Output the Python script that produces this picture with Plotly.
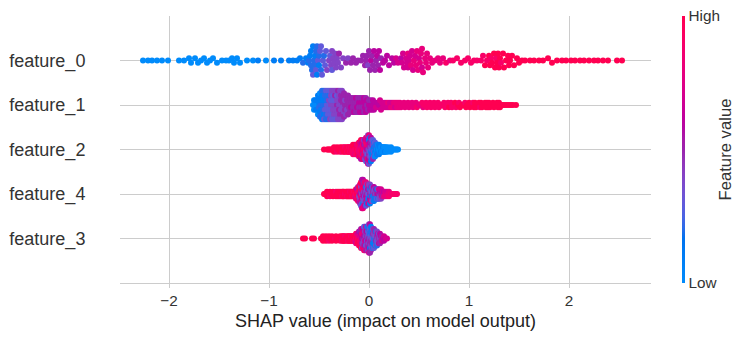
import numpy as np
import plotly.graph_objects as go

# Row labels, top to bottom (ordered by mean |SHAP|)
feature_names = ["feature_0", "feature_1", "feature_2", "feature_4", "feature_3"]
x_ticks = [-2, -1, 0, 1, 2]

# Each SHAP value is paired with the feature values (0 = low, 10 = high)
# of every sample that received that SHAP value.
f0_shap = [
    -2.26, -2.21, -2.17, -2.12, -2.07, -2.01, -1.90, -1.85, -1.80, -1.78,
    -1.74, -1.71, -1.68, -1.65, -1.62, -1.59, -1.56, -1.52, -1.47, -1.43,
    -1.40, -1.37, -1.35, -1.32, -1.29, -1.22, -1.16, -1.11, -1.03, -0.95,
    -0.88, -0.80, -0.76,
    -0.72, -0.69, -0.66, -0.63,
    -0.61, -0.60, -0.59, -0.58, -0.57, -0.56, -0.55, -0.54, -0.53, -0.52,
    -0.51, -0.50, -0.49, -0.48, -0.47, -0.46, -0.45,
    -0.44, -0.43, -0.42,
    -0.40, -0.39, -0.38, -0.37, -0.36, -0.35, -0.34, -0.33, -0.32, -0.31, -0.30,
    -0.28, -0.26, -0.23, -0.21, -0.18, -0.16, -0.13, -0.11, -0.08, -0.06,
    -0.04, -0.03, -0.02, -0.01, 0.00, 0.01, 0.02, 0.03, 0.04, 0.05,
    0.06, 0.07, 0.08, 0.09, 0.10, 0.11, 0.12, 0.14, 0.16, 0.18, 0.20,
    0.23, 0.25, 0.27, 0.29,
    0.32, 0.33, 0.34, 0.35, 0.37, 0.38, 0.39, 0.40, 0.41, 0.42,
    0.43, 0.44, 0.45, 0.46, 0.47, 0.48, 0.49, 0.50, 0.51, 0.52,
    0.53, 0.54, 0.56, 0.57, 0.58, 0.59, 0.61, 0.63,
    0.66, 0.69, 0.71,
    0.74, 0.77, 0.81, 0.84, 0.88, 0.92, 0.96,
    0.99, 1.02, 1.05, 1.08,
    1.12, 1.14, 1.16, 1.18, 1.20, 1.21, 1.22, 1.23, 1.25, 1.26,
    1.27, 1.28, 1.29, 1.30, 1.31, 1.32, 1.34, 1.35, 1.37, 1.39,
    1.40, 1.41, 1.43, 1.45, 1.48, 1.50, 1.53, 1.56,
    1.61, 1.65, 1.70, 1.74, 1.79, 1.83, 1.88, 1.93, 1.97, 2.02,
    2.06, 2.11, 2.15, 2.20, 2.25, 2.29, 2.34, 2.39, 2.48, 2.53,
]
f0_vals = [
    [0], [0], [0], [0], [0], [0], [0], [0], [0], [0],
    [0], [0], [0], [0], [0], [0], [0], [0], [0], [0],
    [0], [0], [0], [0], [0], [0], [0], [1], [0], [1],
    [1], [1], [1],
    [1], [1], [2], [1],
    [1], [2], [1], [2, 1], [2], [1, 3], [2], [1, 2], [2, 3], [2, 1],
    [3], [2, 1], [3], [2, 3], [3], [3], [2],
    [3], [3], [4],
    [4], [3], [4], [4, 3], [4], [4], [4], [4], [4], [4], [5],
    [4], [4], [5], [4], [5], [5], [5], [5], [5], [5],
    [5], [5], [5], [4], [5], [5], [6], [5], [5], [6],
    [5], [5], [6], [5], [6], [6], [5], [6], [6], [6], [6],
    [6], [6], [7], [7],
    [6], [7], [7], [7], [7], [7], [8, 7], [7], [7], [8],
    [7], [7], [8], [7], [8], [8], [8], [7], [8], [8],
    [7, 8], [8], [8], [8], [8], [8], [8], [8],
    [8], [8], [8],
    [8], [9], [8], [9], [9], [9], [9],
    [9], [9], [9], [9],
    [9], [9], [10], [9], [10], [10], [9], [10], [10], [10],
    [9], [10], [10], [10], [10], [9], [10], [10], [10], [10],
    [10], [10], [10], [10], [10], [10], [10], [10],
    [10], [10], [10], [10], [10], [10], [10], [10], [10], [10],
    [10], [10], [10], [10], [10], [10], [10], [10], [10], [10],
]

f1_shap = [
    -0.56, -0.55, -0.54, -0.53, -0.52, -0.51, -0.50, -0.49, -0.48, -0.47,
    -0.46, -0.45, -0.44, -0.43, -0.42, -0.41, -0.40, -0.39, -0.38, -0.37,
    -0.36, -0.35, -0.34, -0.33, -0.32, -0.31, -0.30, -0.29, -0.28, -0.27,
    -0.26, -0.25, -0.24, -0.23, -0.22, -0.21, -0.20, -0.19, -0.18, -0.17,
    -0.16, -0.15, -0.14, -0.13, -0.12, -0.11, -0.10, -0.09, -0.08, -0.07,
    -0.06, -0.05, -0.04, -0.03,
    -0.02, -0.01, 0.00, 0.01, 0.02, 0.03, 0.04, 0.05, 0.06, 0.07, 0.08, 0.09, 0.10, 0.11,
    0.12, 0.13, 0.14, 0.15, 0.16, 0.17, 0.18, 0.19, 0.20, 0.21,
    0.22, 0.23, 0.24, 0.25, 0.26, 0.27, 0.28, 0.29,
    0.30, 0.31, 0.32, 0.34, 0.35, 0.36, 0.38, 0.39, 0.40, 0.42,
    0.43, 0.44, 0.46, 0.47, 0.48, 0.50, 0.51, 0.53, 0.54, 0.55,
    0.57, 0.58, 0.59, 0.61, 0.62, 0.64, 0.65, 0.66, 0.68, 0.69,
    0.70, 0.72, 0.73, 0.75, 0.76, 0.77, 0.79, 0.80, 0.82, 0.83,
    0.84, 0.86, 0.87, 0.89, 0.90, 0.91, 0.93, 0.94, 0.96, 0.97,
    0.98, 1.00,
    1.01, 1.02, 1.04, 1.05, 1.06, 1.07, 1.09, 1.10, 1.11, 1.12,
    1.13, 1.15, 1.16, 1.17, 1.18, 1.19, 1.20, 1.21, 1.23, 1.24,
    1.25, 1.26, 1.28, 1.29, 1.30, 1.31, 1.33, 1.34,
    1.36, 1.38, 1.40, 1.42, 1.44, 1.47,
]
f1_vals = [
    [0], [0, 0], [0, 1], [1], [0, 1, 1], [1, 0], [1, 2, 1], [1, 0, 2], [2, 1, 1], [1, 2, 2, 1],
    [2, 1, 2, 1], [1, 2, 3], [2, 1, 3, 2], [2, 3, 2], [3, 2, 3, 2], [3, 3, 2], [3, 4, 3, 2], [3, 3, 4], [4, 3, 3, 4], [3, 4, 3],
    [4, 3, 4, 3], [4, 4, 3], [4, 3, 4, 5], [4, 4, 3], [5, 4, 4, 3], [4, 5, 4], [4, 4, 5, 4], [5, 4, 4], [4, 5, 4, 5], [5, 4, 4],
    [5, 4, 5], [4, 5, 5], [5, 4, 5], [5, 4], [5, 5, 4], [5, 5], [5, 5], [5, 5], [5, 6], [5, 5],
    [5, 5], [5, 6], [5, 5], [6, 5], [5, 6], [5, 5], [6, 5], [5, 6], [6, 5], [5, 6],
    [6, 5], [6, 5], [6, 6], [5, 6],
    [5, 6], [5], [6, 5], [6], [6, 5], [6], [6, 6], [6], [6], [7], [6], [7], [6], [7],
    [7], [7], [7], [7], [7], [7], [7], [8], [7], [7],
    [8], [7], [8], [8], [7], [8], [8], [8],
    [8], [8], [8], [8], [8], [8], [8], [8], [8], [8],
    [8], [8], [8], [8], [9], [8], [8], [9], [8], [9],
    [9], [9], [9], [9], [9], [9], [9], [9], [9], [9],
    [9], [9], [9], [9], [9], [9], [9], [10], [9], [9],
    [9], [10], [9], [10], [9], [10], [10], [10], [9], [10],
    [10], [10],
    [10], [10], [9], [10], [10], [10], [10], [10], [9], [10],
    [10], [10], [10], [10], [10], [10], [10], [10], [10], [10],
    [10], [10], [10], [10], [10], [10], [10], [10],
    [10], [10], [10], [10], [10], [10],
]

f2_shap = [
    -0.45,
    -0.42, -0.41, -0.40, -0.39, -0.38, -0.37, -0.36, -0.35, -0.34, -0.33, -0.32, -0.31, -0.30,
    -0.29, -0.28, -0.27, -0.26, -0.25, -0.24, -0.23, -0.22, -0.21, -0.20,
    -0.19, -0.18, -0.17, -0.16, -0.15, -0.14, -0.13, -0.12, -0.11,
    -0.10, -0.09, -0.08, -0.07, -0.06, -0.05,
    -0.04, -0.03, -0.02, -0.01, 0.00, 0.01, 0.02, 0.03, 0.04,
    0.05, 0.06, 0.07, 0.08, 0.09, 0.10,
    0.11, 0.12, 0.13, 0.14, 0.15, 0.16, 0.17, 0.18, 0.19, 0.20,
    0.21, 0.22, 0.23, 0.24, 0.25, 0.26, 0.27, 0.28, 0.29,
]
f2_vals = [
    [10],
    [10], [10], [10], [10], [10], [10], [10], [10, 10], [10], [10], [10, 9], [10], [10],
    [10, 10], [10], [10, 9], [10], [10, 10], [9, 10], [10], [10, 9], [10, 10], [9, 10],
    [10, 9], [9, 10], [10, 9], [9, 10, 9], [10, 9], [9, 10, 8], [9, 10, 9], [10, 8, 9], [9, 9, 10],
    [9, 8, 10, 7], [8, 9, 7, 10], [9, 7, 8, 10, 6], [8, 10, 6, 9], [7, 9, 5, 8, 10], [9, 6, 8, 4, 7],
    [8, 5, 9, 6, 4], [7, 4, 9, 5, 8, 3], [6, 9, 4, 7, 5], [5, 8, 3, 6, 9, 4, 7], [4, 7, 5, 2, 6, 8, 3],
    [5, 3, 6, 4, 1, 7], [4, 2, 5, 3, 6, 1], [3, 5, 1, 4, 2], [2, 4, 1, 3, 5],
    [1, 3, 2, 4], [2, 1, 3, 0], [1, 2, 0], [0, 2, 1], [1, 0, 2], [0, 1, 1],
    [1, 0], [0, 1], [0, 0], [1, 0], [0, 0], [0, 1], [0, 0], [0], [0, 0], [0],
    [0], [0, 0], [0], [0], [0], [0], [0], [0], [0],
]

f4_shap = [
    -0.45, -0.44, -0.43, -0.42, -0.41, -0.40, -0.39, -0.38, -0.37, -0.36, -0.35, -0.34,
    -0.33, -0.32, -0.31, -0.30,
    -0.29, -0.28, -0.27, -0.26, -0.25, -0.24, -0.23, -0.22, -0.21, -0.20, -0.19, -0.18,
    -0.17, -0.16, -0.15,
    -0.14, -0.13, -0.12, -0.11, -0.10,
    -0.09, -0.08, -0.07, -0.06, -0.05, -0.04, -0.03,
    -0.02, -0.01, 0.00, 0.01, 0.02, 0.03, 0.04,
    0.05, 0.06, 0.07, 0.08, 0.09, 0.10, 0.11, 0.12,
    0.13, 0.14, 0.15, 0.16, 0.17, 0.18, 0.19, 0.20,
    0.21, 0.22, 0.23, 0.24, 0.25, 0.26, 0.27, 0.28,
]
f4_vals = [
    [10], [10], [10], [10, 10], [10], [10], [10, 9], [10], [10], [10, 10], [10], [10],
    [9, 10], [10], [10, 10], [10],
    [10, 10], [10], [10, 9], [10, 10], [10, 10], [9], [10, 10], [10, 9], [10, 10], [10, 10], [9, 10], [10, 10],
    [10, 9], [10, 10], [9, 10],
    [10, 8], [9, 10, 7], [10, 6, 9], [8, 10, 5, 9], [9, 4, 10, 7],
    [6, 10, 4, 8, 5], [5, 9, 4, 7, 10, 3], [4, 8, 6, 10, 3, 5, 7], [5, 9, 4, 7, 2, 6, 8],
    [4, 6, 10, 3, 5, 8], [5, 3, 7, 4, 9, 6], [4, 6, 2, 5, 8, 3],
    [5, 3, 7, 4, 1], [4, 6, 2, 9, 5], [3, 5, 1, 4, 7], [5, 2, 6, 4, 1], [4, 1, 5, 8], [3, 5, 2, 4], [5, 1, 4, 3],
    [4, 2, 6, 1], [5, 3, 1], [4, 6, 2], [5, 1, 3], [6, 4, 2], [5, 7, 3], [6, 4], [5, 7, 4],
    [6, 7], [7, 5], [6, 8], [7, 8], [8], [7, 8], [8], [8, 9],
    [8], [9], [8], [9], [9], [9], [9], [9],
]

f3_shap = [
    -0.66, -0.64, -0.57, -0.55,
    -0.48, -0.47, -0.46, -0.45, -0.44, -0.43, -0.42, -0.41, -0.40, -0.39,
    -0.38, -0.37, -0.36, -0.35, -0.34, -0.33, -0.32, -0.31, -0.30,
    -0.29, -0.28, -0.27, -0.26, -0.25, -0.24, -0.23, -0.22, -0.21, -0.20,
    -0.19, -0.18, -0.17, -0.16, -0.15,
    -0.14, -0.13, -0.12, -0.11, -0.10, -0.09, -0.08,
    -0.07, -0.06, -0.05, -0.04, -0.03, -0.02, -0.01, 0.00,
    0.01, 0.02, 0.03, 0.04, 0.05, 0.06, 0.07,
    0.08, 0.09, 0.10, 0.11, 0.12, 0.13,
    0.14, 0.15, 0.16, 0.17, 0.18,
]
f3_vals = [
    [10], [10], [10], [10],
    [10], [10], [10, 10], [10], [10], [10, 10], [10], [10], [10, 9], [10],
    [10], [10, 10], [10], [10], [9], [10, 10], [10], [10], [10],
    [10, 10], [10], [10, 9], [10, 10], [10, 10], [9, 10], [10], [10, 10], [10, 9], [10, 10],
    [10, 10], [9, 10], [10, 10], [10, 9], [10, 10],
    [10, 8], [9, 10, 7], [10, 8, 9], [9, 7, 10], [8, 10, 6, 9], [7, 9, 5, 10], [8, 6, 9, 5, 10],
    [6, 9, 5, 7, 4], [5, 8, 4, 6, 9], [6, 4, 7, 5, 3, 8], [5, 7, 4, 6, 3, 9],
    [4, 6, 5, 3, 7, 5], [5, 3, 6, 4, 2, 7], [4, 6, 3, 5, 2, 4], [5, 3, 4, 2, 6, 4, 7],
    [4, 2, 5, 3, 1, 6, 5], [3, 5, 2, 4, 1, 5], [4, 2, 5, 1, 3], [3, 5, 1, 4, 2],
    [2, 4, 1, 5, 3], [4, 2, 5, 1], [3, 5, 2, 4],
    [5, 3, 4, 2], [4, 6, 3], [5, 3, 6], [4, 6, 5], [6, 5], [5, 7],
    [6], [7, 6], [6], [7], [7],
]

rows = [
    (f0_shap, f0_vals),
    (f1_shap, f1_vals),
    (f2_shap, f2_vals),
    (f4_shap, f4_vals),
    (f3_shap, f3_vals),
]


def red_blue_scale(n=25):
    """Blue-to-red scale interpolated in LCh space (low -> high feature value)."""
    rgb_from_xyz = np.linalg.inv(np.array([
        [0.412453, 0.357580, 0.180423],
        [0.212671, 0.715160, 0.072169],
        [0.019334, 0.119193, 0.950227],
    ]))
    scale = []
    for t in np.linspace(0, 1, n):
        L = 54 + (40 - 54) * t / 0.5 if t <= 0.5 else 40 + (54 - 40) * (t - 0.5) / 0.5
        C = 70 + (90 - 70) * t
        h = 4.6588 + t * (0.35470565 + 2 * np.pi - 4.6588)
        a, b = C * np.cos(h), C * np.sin(h)
        fy = (L + 16) / 116
        f = np.array([fy + a / 500, fy, fy - b / 200])
        xyz = np.where(f > 6 / 29, f ** 3, 3 * (6 / 29) ** 2 * (f - 4 / 29))
        xyz *= np.array([0.95047, 1.0, 1.08883])
        lin = rgb_from_xyz @ xyz
        srgb = np.where(lin > 0.0031308, 1.055 * np.abs(lin) ** (1 / 2.4) - 0.055, 12.92 * lin)
        r, g, bl = (np.clip(srgb, 0, 1) * 255).round().astype(int)
        scale.append([float(t), f"rgb({r},{g},{bl})"])
    return scale


def swarm_offsets(values, nbins=100, half_height=0.32):
    """Vertical jitter: points sharing a SHAP bin are spread symmetrically,
    centre-out, with the spread proportional to the bin count."""
    values = np.asarray(values, dtype=float)
    lo, hi = values.min(), values.max()
    quant = np.round(nbins * (values - lo) / (hi - lo + 1e-8))
    ys = np.zeros(len(values))
    for q in np.unique(quant):
        idx = np.flatnonzero(quant == q)
        slots = np.arange(len(idx)) - (len(idx) - 1) / 2
        slots = sorted(slots, key=lambda s: (abs(s), -s))
        ys[idx] = slots
    peak = np.max(np.abs(ys))
    if peak > 0:
        ys *= half_height / peak
    return ys


colorscale = red_blue_scale()
font_family = "Liberation Sans, Arial, Helvetica, sans-serif"

fig = go.Figure()
n_rows = len(rows)
for i, (shap_vals, feat_vals) in enumerate(rows):
    pos = n_rows - 1 - i
    xs = np.repeat(np.array(shap_vals, dtype=float), [len(v) for v in feat_vals])
    cs = np.concatenate([np.array(v, dtype=float) for v in feat_vals])
    ys = pos + swarm_offsets(xs)
    marker = dict(size=6, color=cs, colorscale=colorscale, cmin=0, cmax=10,
                  line=dict(width=0), opacity=1)
    if i == 0:
        marker.update(showscale=True, colorbar=dict(
            thickness=3, len=1, lenmode="fraction", y=0.5, yanchor="middle", ypad=0,
            x=1.058, xanchor="left", xpad=0, outlinewidth=0,
            tickvals=[0, 10], ticktext=["Low", "High"], ticks="",
            tickfont=dict(size=15.3, color="#333333", family=font_family),
        ))
    else:
        marker.update(showscale=False)
    fig.add_trace(go.Scatter(x=xs, y=ys, mode="markers", marker=marker,
                             hoverinfo="skip", showlegend=False))

fig.update_layout(
    width=745, height=340,
    margin=dict(l=120, r=94, t=16, b=57, autoexpand=False),
    paper_bgcolor="white", plot_bgcolor="white",
    font=dict(family=font_family, color="#333333"),
    showlegend=False,
    annotations=[dict(
        text="Feature value", textangle=-90, showarrow=False,
        xref="paper", yref="paper", x=1.1394, y=0.5,
        xanchor="center", yanchor="middle",
        font=dict(size=16.7, color="#333333", family=font_family),
    )],
)
fig.update_xaxes(
    range=[-2.49, 2.82], tickvals=x_ticks,
    showgrid=True, gridcolor="#cccccc", gridwidth=1,
    zeroline=True, zerolinecolor="#999999", zerolinewidth=1,
    showline=True, linecolor="#cccccc", linewidth=1,
    ticks="outside", ticklen=4, tickcolor="#cccccc",
    tickfont=dict(size=15.3, color="#333333"),
    title=dict(text="SHAP value (impact on model output)",
               font=dict(size=18, color="#222222"), standoff=6),
    automargin=False,
)
fig.update_yaxes(
    range=[-1, n_rows], tickvals=list(range(n_rows)),
    ticktext=feature_names[::-1],
    showgrid=True, gridcolor="#cccccc", gridwidth=1,
    zeroline=False, showline=False,
    ticks="outside", ticklen=30, tickcolor="rgba(0,0,0,0)",
    tickfont=dict(size=18, color="#333333"),
    automargin=False,
)

fig.write_html("out.html")
